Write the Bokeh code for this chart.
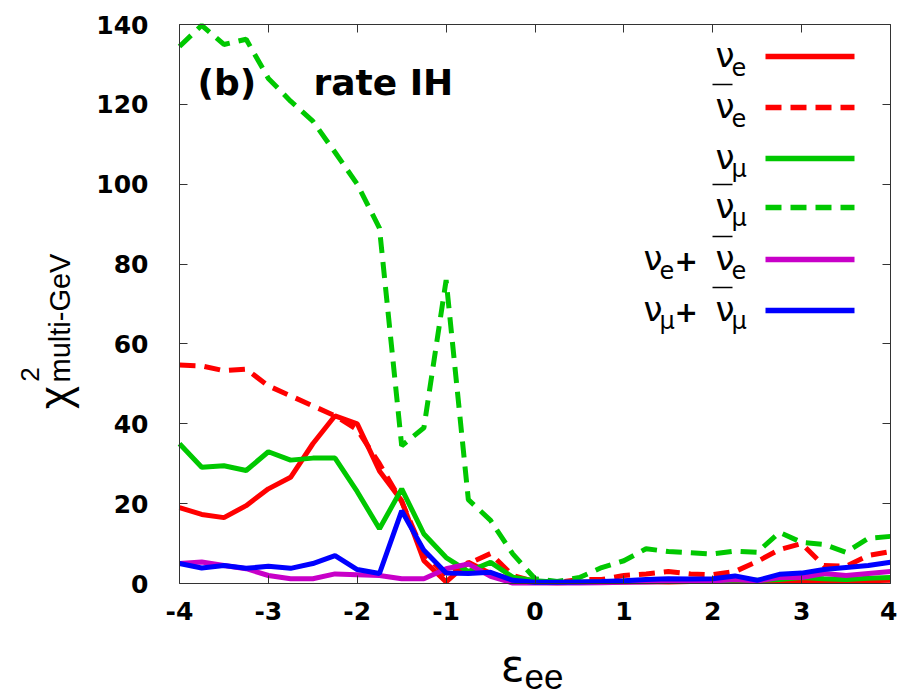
from bokeh.plotting import figure
from bokeh.models import Label, LinearAxis, Range1d, FixedTicker
from bokeh.embed import file_html
from bokeh.resources import INLINE
import math

# ---------------- data ----------------
eps = [-4.0, -3.75, -3.5, -3.25, -3.0, -2.75, -2.5, -2.25, -2.0, -1.75, -1.5, -1.25,
       -1.0, -0.75, -0.5, -0.25, 0.0, 0.25, 0.5, 0.75, 1.0, 1.25, 1.5, 1.75,
       2.0, 2.25, 2.5, 2.75, 3.0, 3.25, 3.5, 3.75, 4.0]

nu_e = [19.0, 17.3, 16.5, 19.5, 23.7, 26.6, 35.0, 42.0, 40.0, 28.2, 20.7, 5.7,
        0.4, 5.3, 2.5, 1.0, 0.3, 0.2, 0.3, 0.4, 0.4, 0.5, 0.4, 0.5,
        0.5, 0.5, 0.5, 0.6, 0.6, 0.5, 0.6, 0.7, 0.8]

anti_nu_e = [54.7, 54.5, 53.3, 53.7, 49.5, 47.0, 44.5, 42.0, 38.5, 30.0, 20.5, 7.5,
             2.0, 5.0, 7.5, 2.0, 0.5, 0.3, 1.0, 1.0, 2.0, 2.4, 3.0, 2.4,
             2.2, 3.0, 5.5, 8.5, 10.0, 4.5, 4.3, 7.0, 8.0]

nu_mu = [35.0, 29.1, 29.5, 28.3, 33.0, 30.9, 31.4, 31.4, 23.0, 13.7, 23.7, 12.4,
         6.5, 3.0, 5.3, 1.6, 0.7, 0.3, 0.3, 0.4, 0.5, 0.5, 0.6, 0.6,
         0.7, 0.8, 0.8, 1.0, 1.5, 1.2, 1.0, 1.3, 1.5]

anti_nu_mu = [134.5, 139.8, 135.0, 136.3, 126.5, 120.8, 115.8, 108.0, 100.0, 89.0, 34.5, 39.0,
              76.0, 21.0, 15.8, 7.4, 1.2, 0.5, 1.5, 4.0, 5.7, 8.7, 8.0, 7.7,
              7.4, 8.1, 7.8, 12.8, 10.3, 9.8, 7.8, 11.3, 11.8]

nu_e_sum = [5.0, 5.4, 4.5, 3.7, 2.0, 1.2, 1.2, 2.4, 2.2, 2.0, 1.2, 1.2,
            3.7, 4.9, 1.8, 0.1, 0.1, 0.1, 0.1, 0.2, 0.3, 0.4, 0.5, 0.6,
            0.6, 1.0, 0.6, 1.5, 1.5, 2.5, 2.0, 2.5, 3.0]

nu_mu_sum = [5.0, 3.9, 4.5, 3.8, 4.3, 3.8, 5.0, 7.0, 3.5, 2.5, 18.2, 8.3,
             2.6, 2.5, 2.8, 0.8, 0.3, 0.3, 0.4, 0.5, 0.7, 1.0, 1.2, 1.1,
             1.2, 1.9, 0.8, 2.3, 2.6, 3.5, 4.0, 4.5, 5.3]

x_ticks = [-4, -3, -2, -1, 0, 1, 2, 3, 4]
y_ticks = [0, 20, 40, 60, 80, 100, 120, 140]
X_MIN, X_MAX = -4, 4
Y_MIN, Y_MAX = 0, 140

RED = "#ff0000"
GREEN = "#00c800"
MAGENTA = "#c800c8"
BLUE = "#0000ff"

series = [
    (nu_e, RED, "solid"),
    (anti_nu_e, RED, "16 9"),
    (nu_mu, GREEN, "solid"),
    (anti_nu_mu, GREEN, "16 9"),
    (nu_e_sum, MAGENTA, "solid"),
    (nu_mu_sum, BLUE, "solid"),
]

# ------------- layout: plot box position in page pixels -------------
W, H = 897, 698
FL, FR, FT, FB = 179.0, 890.0, 24.0, 583.0   # box edges in pixels


def dx(px):
    return X_MIN + (px - FL) * (X_MAX - X_MIN) / (FR - FL)


def dy(py):
    return Y_MIN + (FB - py) * (Y_MAX - Y_MIN) / (FB - FT)


p = figure(width=W, height=H,
           x_range=Range1d(dx(0), dx(W)), y_range=Range1d(dy(H), dy(0)),
           output_backend="svg", toolbar_location=None,
           min_border_left=0, min_border_right=0, min_border_top=0, min_border_bottom=0)
p.grid.visible = False
p.outline_line_color = None
p.background_fill_color = "white"
p.border_fill_color = "white"

AX = "#333333"
TICK_FONT = "DejaVu Sans"

xa = p.xaxis[0]
xa.ticker = FixedTicker(ticks=x_ticks)
xa.fixed_location = Y_MIN
xa.bounds = (X_MIN, X_MAX)
xa.major_label_standoff = 18
xa.major_label_overrides = {t: str(t) for t in x_ticks}

ya = p.yaxis[0]
ya.ticker = FixedTicker(ticks=y_ticks)
ya.fixed_location = X_MIN
ya.bounds = (Y_MIN, Y_MAX)
ya.major_label_standoff = 31
ya.major_label_overrides = {t: str(t) for t in y_ticks}

for ax in (xa, ya):
    ax.major_tick_in = 8
    ax.major_tick_out = 0
    ax.minor_tick_in = 0
    ax.minor_tick_out = 0
    ax.axis_line_color = AX
    ax.major_tick_line_color = AX
    ax.major_label_text_font = TICK_FONT
    ax.major_label_text_font_style = "bold"
    ax.major_label_text_font_size = "25px"
    ax.major_label_text_color = "black"

# mirror axes (top / right): ticks only, drawn as minor ticks (no labels)
top = LinearAxis(ticker=FixedTicker(ticks=[], minor_ticks=x_ticks),
                 fixed_location=Y_MAX, bounds=(X_MIN, X_MAX),
                 major_tick_in=0, major_tick_out=0, minor_tick_in=8, minor_tick_out=0,
                 axis_line_color=AX, minor_tick_line_color=AX)
right = LinearAxis(ticker=FixedTicker(ticks=[], minor_ticks=y_ticks),
                   fixed_location=X_MAX, bounds=(Y_MIN, Y_MAX),
                   major_tick_in=0, major_tick_out=0, minor_tick_in=8, minor_tick_out=0,
                   axis_line_color=AX, minor_tick_line_color=AX)
p.add_layout(top, "above")
p.add_layout(right, "right")

for ys, col, dash in series:
    p.line(eps, ys, line_color=col, line_width=5, line_dash=dash)


def lab(px, base_py, text, size, font="DejaVu Sans", style="normal", align="left"):
    """Horizontal label; base_py is the wanted baseline (page pixels)."""
    mid = base_py - 0.35 * size
    p.add_layout(Label(x=dx(px), y=dy(mid), text=text, text_font=font,
                       text_font_style=style, text_font_size="%dpx" % size,
                       text_align=align, text_baseline="middle", text_color="black"))


def vlab(px, py, text, size, font="Liberation Sans", align="center"):
    """Rotated (bottom-to-top) label centred on px horizontally."""
    p.add_layout(Label(x=dx(px), y=dy(py), text=text, text_font=font,
                       text_font_size="%dpx" % size, text_align=align,
                       text_baseline="middle", angle=math.pi / 2, text_color="black"))


# panel title
lab(197, 95, "(b)", 36, style="bold")
lab(313, 95, "rate IH", 36, style="bold")

# legend
rows = [
    ("e", False, None, RED, "solid"),
    ("e", True, None, RED, "16 9"),
    ("\u03bc", False, None, GREEN, "solid"),
    ("\u03bc", True, None, GREEN, "16 9"),
    ("e", True, "e", MAGENTA, "solid"),
    ("\u03bc", True, "\u03bc", BLUE, "solid"),
]
row_y = [56, 107, 158, 207, 259, 310]
for (sub, bar, pre, col, dash), ly in zip(rows, row_y):
    p.line([dx(765), dx(854)], [dy(ly), dy(ly)], line_color=col, line_width=5.5,
           line_dash=dash)
    lab(734, ly + 10, "\u03bd", 34, align="right")
    lab(731, ly + 19, sub, 24)
    if bar:
        p.line([dx(712), dx(732)], [dy(ly - 23), dy(ly - 23)], line_color="black",
               line_width=1.5)
    if pre is not None:
        lab(662, ly + 10, "\u03bd", 34, align="right")
        lab(659, ly + 19, pre, 24)
        lab(674, ly + 11, "+", 28, style="bold")

# x-axis label
lab(524, 680, "\u03b5", 44, align="right")
lab(524, 689, "ee", 35, font="Liberation Sans")

# y-axis label (rotated)
vlab(54, 397, "\u03c7", 44)
vlab(29, 374, "2", 26)
vlab(59, 382, "multi-GeV", 29, align="left")

open("out.html", "w").write(file_html(p, INLINE))
